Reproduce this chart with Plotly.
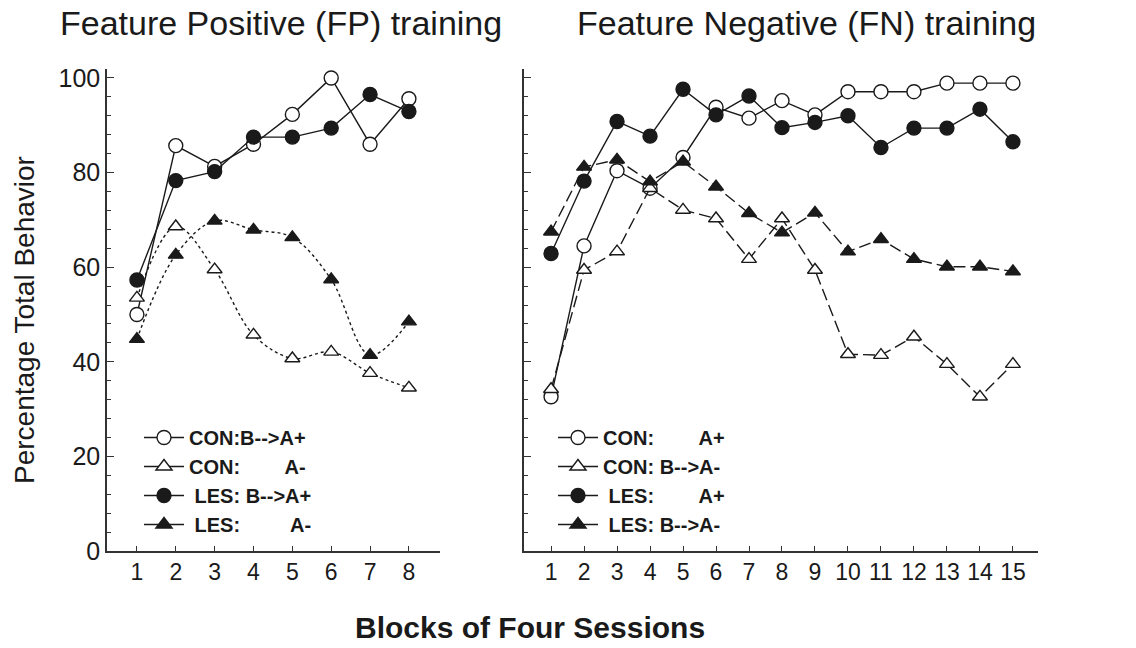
import plotly.graph_objects as go

# ---------------- data ----------------
fp_blocks = [1, 2, 3, 4, 5, 6, 7, 8]
fp_con_Aplus = [50, 85.7, 81.3, 86, 92.3, 100, 86, 95.6]
fp_con_Aminus = [53.5, 68.6, 59.5, 45.7, 40.7, 42.1, 37.6, 34.5]
fp_les_Aplus = [57.3, 78.3, 80.2, 87.5, 87.5, 89.4, 96.5, 92.9]
fp_les_Aminus = [44.8, 62.6, 69.8, 67.9, 66.3, 57.4, 41.4, 48.5]

fn_blocks = list(range(1, 16))
fn_con_Aplus = [32.6, 64.5, 80.4, 76.7, 83.2, 93.8, 91.5, 95.2, 92.2, 97.1, 97.1, 97.1, 98.9, 98.9, 98.9]
fn_con_Aminus = [34.2, 59.4, 63.3, 76.7, 72.1, 70.3, 61.7, 70.3, 59.4, 41.6, 41.4, 45.3, 39.5, 32.6, 39.5]
fn_les_Aplus = [62.9, 78.2, 90.8, 87.7, 97.6, 92.2, 96.2, 89.5, 90.6, 92.0, 85.3, 89.4, 89.4, 93.4, 86.5]
fn_les_Aminus = [67.5, 81.2, 82.7, 78.1, 82.3, 77.0, 71.4, 67.3, 71.5, 63.3, 65.9, 61.7, 60.1, 60.1, 59.1]

NB = "\u00a0"
fp_labels = ["CON:B-->A+", "CON:" + NB * 8 + "A-",
             NB + "LES: B-->A+", NB + "LES:" + NB * 9 + "A-"]
fn_labels = ["CON:" + NB * 8 + "A+", "CON: B-->A-",
             NB + "LES:" + NB * 8 + "A+", NB + "LES: B-->A-"]

FONT = "Liberation Sans, Arial, sans-serif"
BLACK = "#1a1a1a"

fig = go.Figure()

def add_series(x, y, xa, ya, symbol, filled, dash, shape="linear"):
    fig.add_trace(go.Scatter(
        x=x, y=y, xaxis=xa, yaxis=ya, mode="lines+markers",
        line=dict(color=BLACK, width=1.4, dash=dash, shape=shape, smoothing=1.0),
        marker=dict(symbol=symbol, size=14 if symbol == "circle" else 13,
                    color=BLACK if filled else "white",
                    line=dict(color=BLACK, width=1.4)),
        showlegend=False, hoverinfo="x+y"))

# left panel (FP)
add_series(fp_blocks, fp_con_Aplus, "x", "y", "circle", False, "solid")
add_series(fp_blocks, fp_con_Aminus, "x", "y", "triangle-up", False, "dot", "spline")
add_series(fp_blocks, fp_les_Aplus, "x", "y", "circle", True, "solid")
add_series(fp_blocks, fp_les_Aminus, "x", "y", "triangle-up", True, "dot", "spline")
# right panel (FN)
add_series(fn_blocks, fn_con_Aplus, "x2", "y2", "circle", False, "solid")
add_series(fn_blocks, fn_con_Aminus, "x2", "y2", "triangle-up", False, "12px,5px")
add_series(fn_blocks, fn_les_Aplus, "x2", "y2", "circle", True, "solid")
add_series(fn_blocks, fn_les_Aminus, "x2", "y2", "triangle-up", True, "12px,5px")

# legend entries
styles = [("circle", False), ("triangle-up", False), ("circle", True), ("triangle-up", True)]
for legend_name, labels, xa, ya in [("legend", fp_labels, "x", "y"), ("legend2", fn_labels, "x2", "y2")]:
    for (sym, filled), lab in zip(styles, labels):
        fig.add_trace(go.Scatter(
            x=[None], y=[None], xaxis=xa, yaxis=ya, mode="lines+markers", name=lab,
            legend=legend_name,
            line=dict(color=BLACK, width=1.4),
            marker=dict(symbol=sym, size=14, color=BLACK if filled else "white",
                        line=dict(color=BLACK, width=1.4))))

W, H = 1136, 648
ytop, ybot = 68.5, 551
ydom = [(H - ybot) / H, (H - ytop) / H]

axis_common = dict(showgrid=False, zeroline=False, showline=True, linecolor="#333",
                   linewidth=1.5, color=BLACK, tickcolor="#333", automargin=False)

legend_common = dict(xanchor="left", yanchor="top", bgcolor="rgba(0,0,0,0)",
                     font=dict(size=20, family=FONT, weight="bold"),
                     traceorder="normal", itemwidth=40)

fig.update_layout(
    width=W, height=H, margin=dict(l=0, r=0, t=0, b=0),
    paper_bgcolor="white", plot_bgcolor="white",
    font=dict(family=FONT, color=BLACK),
    xaxis=dict(domain=[107 / W, 440 / W], range=[0.23, 8.8], tickmode="array",
               tickvals=fp_blocks, ticks="inside", ticklen=5, tickwidth=1.2,
               tickfont=dict(size=23), anchor="y", **axis_common),
    yaxis=dict(domain=ydom, range=[0, 102], tickmode="linear", tick0=0, dtick=20,
               ticks="inside", ticklen=7, tickwidth=1.2, tickfont=dict(size=25),
               minor=dict(dtick=4, ticks="inside", ticklen=4, tickcolor="#333"),
               anchor="x", **axis_common),
    xaxis2=dict(domain=[524 / W, 1038 / W], range=[0.18, 15.76], tickmode="array",
                tickvals=fn_blocks, ticks="inside", ticklen=5, tickwidth=1.2,
                tickfont=dict(size=23), anchor="y2", **axis_common),
    yaxis2=dict(domain=ydom, range=[0, 102], tickmode="linear", tick0=0, dtick=20,
                ticks="inside", ticklen=7, tickwidth=1.2, showticklabels=False,
                minor=dict(dtick=4, ticks="inside", ticklen=4, tickcolor="#333"),
                anchor="x2", **axis_common),
    legend=dict(x=139 / W, y=(H - 418) / H, **legend_common),
    legend2=dict(x=553 / W, y=(H - 418) / H, **legend_common),
    annotations=[
        dict(text="Feature Positive (FP) training", x=58 / W, y=(H - 23) / H,
             xref="paper", yref="paper", xanchor="left", yanchor="middle",
             showarrow=False, font=dict(size=34)),
        dict(text="Feature Negative (FN) training", x=575 / W, y=(H - 23) / H,
             xref="paper", yref="paper", xanchor="left", yanchor="middle",
             showarrow=False, font=dict(size=34)),
        dict(text="Percentage Total Behavior", x=24 / W, y=(H - 320) / H,
             xref="paper", yref="paper", xanchor="center", yanchor="middle",
             textangle=-90, showarrow=False, font=dict(size=28)),
        dict(text="<b>Blocks of Four Sessions</b>", x=530 / W, y=(H - 627) / H,
             xref="paper", yref="paper", xanchor="center", yanchor="middle",
             showarrow=False, font=dict(size=30)),
    ],
)

fig.write_html("out.html")
